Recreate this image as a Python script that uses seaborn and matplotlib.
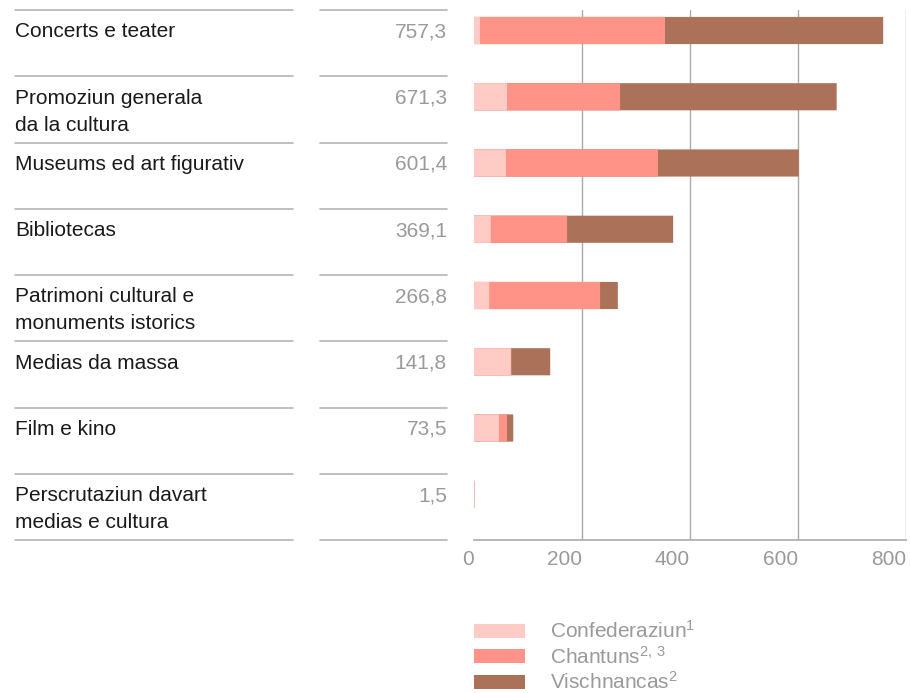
import matplotlib
matplotlib.use("Agg")
import matplotlib.pyplot as plt
import matplotlib.transforms as mtransforms
from matplotlib.lines import Line2D
from matplotlib.patches import Patch
import numpy as np
import pandas as pd
import seaborn as sns

# datos
categorias = [
    "Concerts e teater",
    "Promoziun generala\nda la cultura",
    "Museums ed art figurativ",
    "Bibliotecas",
    "Patrimoni cultural e\nmonuments istorics",
    "Medias da massa",
    "Film e kino",
    "Perscrutaziun davart\nmedias e cultura",
]
totales = [757.3, 671.3, 601.4, 369.1, 266.8, 141.8, 73.5, 1.5]
confederaziun = [12, 62, 60, 32, 29, 69, 47, 0]
chantuns = [342, 209, 281, 141, 205, 1, 15, 1.5]
vischnancas = [403.3, 400.3, 260.4, 196.1, 32.8, 71.8, 11.5, 0]

series = ["Confederaziun$^{1}$", "Chantuns$^{2,\\,3}$", "Vischnancas$^{2}$"]
colores = ["#ffcbc4", "#ff9388", "#ab7259"]
xticks = [0, 200, 400, 600, 800]

sns.set_theme(style="white")
plt.rcParams["font.family"] = ["Liberation Sans", "DejaVu Sans"]
plt.rcParams["mathtext.fontset"] = "custom"
plt.rcParams["mathtext.rm"] = "Liberation Sans"
plt.rcParams["mathtext.it"] = "Liberation Sans"

W, H = 910, 693
fig = plt.figure(figsize=(W / 100, H / 100), dpi=100)

# posicion de los ejes en pixeles
x0, x1 = 473.5, 906.3
y_top, y_bot = 10, 540
ax = fig.add_axes([x0 / W, 1 - y_bot / H, (x1 - x0) / W, (y_bot - y_top) / H])

df = pd.DataFrame({
    "cat": categorias,
    "c1": np.array(confederaziun),
    "c2": np.array(confederaziun) + np.array(chantuns),
    "c3": np.array(confederaziun) + np.array(chantuns) + np.array(vischnancas),
})

ancho = 0.41
# barras apiladas: se dibuja del total hacia atras
for col, color in zip(["c3", "c2", "c1"], colores[::-1]):
    sns.barplot(data=df, x=col, y="cat", color=color, orient="h",
                width=ancho, saturation=1, ax=ax, zorder=3,
                linewidth=0, edgecolor="none", snap=False)

off = 20.5 / 66.25
ax.set_ylim(8 - off, -off)
ax.set_xlim(0, 800)
ax.set_xticks(xticks)
ax.set_xticklabels([str(t) for t in xticks], ha="right", fontsize=15, color="#9a9a9a")
ax.tick_params(axis="x", length=6, width=1, color="#aaaaaa", pad=1)
ax.tick_params(axis="y", left=False, labelleft=False)
ax.set_xlabel("")
ax.set_ylabel("")
ax.grid(axis="x", color="#aaaaaa", linewidth=1)
ax.grid(axis="y", visible=False)
ax.set_axisbelow(True)
for s in ["top", "right", "left"]:
    ax.spines[s].set_visible(False)
ax.spines["bottom"].set_color("#aaaaaa")
ax.spines["bottom"].set_linewidth(1.2)
ax.get_xgridlines()[0].set_visible(False)
ax.xaxis.get_major_ticks()[0].tick1line.set_visible(False)

# columnas de texto a la izquierda
trans = mtransforms.blended_transform_factory(fig.transFigure, ax.transData)
paso_linea = 27 / 66.25
for i, (cat, tot) in enumerate(zip(categorias, totales)):
    for j, linea in enumerate(cat.split("\n")):
        fig.text(15 / W, i + j * paso_linea + 0.02, linea, transform=trans,
                 ha="left", va="center", fontsize=15, color="#1a1a1a")
    fig.text(447 / W, i + 0.02, f"{tot:.1f}".replace(".", ","), transform=trans,
             ha="right", va="center", fontsize=15, color="#9a9a9a")

for k in range(9):
    yy = k - off
    for xa, xb in [(15, 293), (320, 447)]:
        fig.add_artist(Line2D([xa / W, xb / W], [yy, yy], transform=trans,
                              color="#b5b5b5", linewidth=1.2))

# leyenda
handles = [Patch(facecolor=c, edgecolor="none") for c in colores]
leg = fig.legend(handles, series, loc="upper left",
                 bbox_to_anchor=(466 / W, 1 - 612 / H), frameon=False,
                 fontsize=15, handlelength=2.45, handleheight=0.65,
                 handletextpad=1.2, labelspacing=0.17, borderaxespad=0)
for t in leg.get_texts():
    t.set_color("#9a9a9a")

fig.savefig("out.png", dpi=100)
